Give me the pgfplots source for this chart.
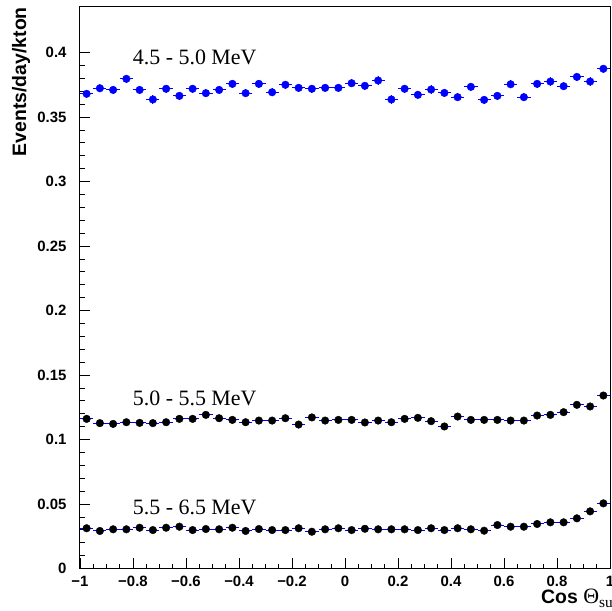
\documentclass[border=0pt]{standalone}
\usepackage{fontspec}
\setmainfont{Liberation Serif}
\setsansfont{Liberation Sans}
\usepackage{pgfplots}
\pgfplotsset{compat=1.18}
\usepackage{pgfplotstable}

% 4.5 - 5.0 MeV
\pgfplotstableread{
x y
-0.975 0.3680
-0.925 0.3723
-0.875 0.3710
-0.825 0.3796
-0.775 0.3710
-0.725 0.3636
-0.675 0.3719
-0.625 0.3664
-0.575 0.3719
-0.525 0.3685
-0.475 0.3710
-0.425 0.3757
-0.375 0.3685
-0.325 0.3757
-0.275 0.3692
-0.225 0.3750
-0.175 0.3726
-0.125 0.3719
-0.075 0.3726
-0.025 0.3726
0.025 0.3762
0.075 0.3742
0.125 0.3783
0.175 0.3636
0.225 0.3719
0.275 0.3672
0.325 0.3713
0.375 0.3687
0.425 0.3654
0.475 0.3734
0.525 0.3633
0.575 0.3664
0.625 0.3754
0.675 0.3654
0.725 0.3757
0.775 0.3775
0.825 0.3739
0.875 0.3811
0.925 0.3775
0.975 0.3874
}\binA

% 5.0 - 5.5 MeV
\pgfplotstableread{
x y
-0.975 0.1160
-0.925 0.1127
-0.875 0.1121
-0.825 0.1134
-0.775 0.1129
-0.725 0.1127
-0.675 0.1134
-0.625 0.1160
-0.575 0.1160
-0.525 0.1191
-0.475 0.1165
-0.425 0.1152
-0.375 0.1134
-0.325 0.1147
-0.275 0.1147
-0.225 0.1165
-0.175 0.1116
-0.125 0.1171
-0.075 0.1147
-0.025 0.1152
0.025 0.1152
0.075 0.1132
0.125 0.1147
0.175 0.1134
0.225 0.1160
0.275 0.1168
0.325 0.1142
0.375 0.1101
0.425 0.1178
0.475 0.1152
0.525 0.1152
0.575 0.1152
0.625 0.1147
0.675 0.1147
0.725 0.1186
0.775 0.1191
0.825 0.1212
0.875 0.1269
0.925 0.1256
0.975 0.1341
}\binB

% 5.5 - 6.5 MeV
\pgfplotstableread{
x y
-0.975 0.0312
-0.925 0.0291
-0.875 0.0304
-0.825 0.0304
-0.775 0.0316
-0.725 0.0298
-0.675 0.0316
-0.625 0.0324
-0.575 0.0298
-0.525 0.0306
-0.475 0.0304
-0.425 0.0316
-0.375 0.0291
-0.325 0.0306
-0.275 0.0298
-0.225 0.0298
-0.175 0.0312
-0.125 0.0285
-0.075 0.0304
-0.025 0.0312
0.025 0.0298
0.075 0.0308
0.125 0.0304
0.175 0.0304
0.225 0.0304
0.275 0.0298
0.325 0.0312
0.375 0.0298
0.425 0.0312
0.475 0.0304
0.525 0.0293
0.575 0.0337
0.625 0.0324
0.675 0.0324
0.725 0.0345
0.775 0.0358
0.825 0.0358
0.875 0.0389
0.925 0.0443
0.975 0.0505
}\binC

\begin{document}
\begin{tikzpicture}
\begin{axis}[
    scale only axis,
    width=530bp,
    height=561.5bp,
    xmin=-1, xmax=1,
    ymin=0, ymax=0.4353,
    axis line style={line width=1bp},
    tick pos=left,
    tick align=inside,
    major tick length=10bp,
    minor tick length=5bp,
    every tick/.style={black, line width=0.8bp},
    xtick={-1,-0.8,-0.6,-0.4,-0.2,0,0.2,0.4,0.6,0.8,1},
    xticklabels={−1,−0.8,−0.6,−0.4,−0.2,0,0.2,0.4,0.6,0.8,1},
    ytick={0,0.05,0.1,0.15,0.2,0.25,0.3,0.35,0.4},
    yticklabels={0,0.05,0.1,0.15,0.2,0.25,0.3,0.35,0.4},
    minor x tick num=3,
    minor y tick num=4,
    ticklabel style={font=\fontsize{15}{15}\sffamily\bfseries},
    xticklabel style={yshift=-4bp},
    yticklabel style={xshift=-10bp},
    ylabel={Events/day/kton},
    ylabel style={at={(axis description cs:-0.111,1.0)}, anchor=east,
        inner sep=0pt, font=\fontsize{19.5}{19.5}\sffamily\bfseries},
    xlabel={\sffamily\bfseries Cos \rmfamily\mdseries\fontsize{22}{22}\selectfont Θ$_{\mathrm{\fontsize{16}{16}\selectfont sun}}$},
    xlabel style={at={(axis description cs:0.8698,-0.0632)}, anchor=base west,
        inner sep=0pt, font=\fontsize{19.5}{19.5}\selectfont},
    clip=false,
]
\coordinate (sw) at (rel axis cs:0,0);
\coordinate (ne) at (rel axis cs:1,1);

\addplot[only marks, mark=*, mark size=3.8bp, blue,
    error bars/.cd, x dir=both, x fixed=0.025, y dir=both, y fixed=0.0032,
    error mark=none, error bar style={blue, line width=1bp}] table {\binA};

\addplot[only marks, mark=*, mark size=3.8bp, blue, mark options={draw=black, fill=black},
    error bars/.cd, x dir=both, x fixed=0.025, y dir=both, y fixed=0.0015,
    error mark=none, error bar style={blue, line width=1bp}] table {\binB};

\addplot[only marks, mark=*, mark size=3.8bp, blue, mark options={draw=black, fill=black},
    error bars/.cd, x dir=both, x fixed=0.025, y dir=both, y fixed=0.0012,
    error mark=none, error bar style={blue, line width=1bp}] table {\binC};

\node[anchor=base west, inner sep=0pt, font=\fontsize{22}{22}\selectfont] at (axis cs:-0.801,0.391) {4.5 - 5.0 MeV};
\node[anchor=base west, inner sep=0pt, font=\fontsize{22}{22}\selectfont] at (axis cs:-0.801,0.1265) {5.0 - 5.5 MeV};
\node[anchor=base west, inner sep=0pt, font=\fontsize{22}{22}\selectfont] at (axis cs:-0.801,0.042) {5.5 - 6.5 MeV};
\end{axis}
\pgfresetboundingbox
\useasboundingbox ([shift={(-80bp,-42.5bp)}]sw) rectangle ([shift={(2bp,7bp)}]ne);
\end{tikzpicture}
\end{document}
